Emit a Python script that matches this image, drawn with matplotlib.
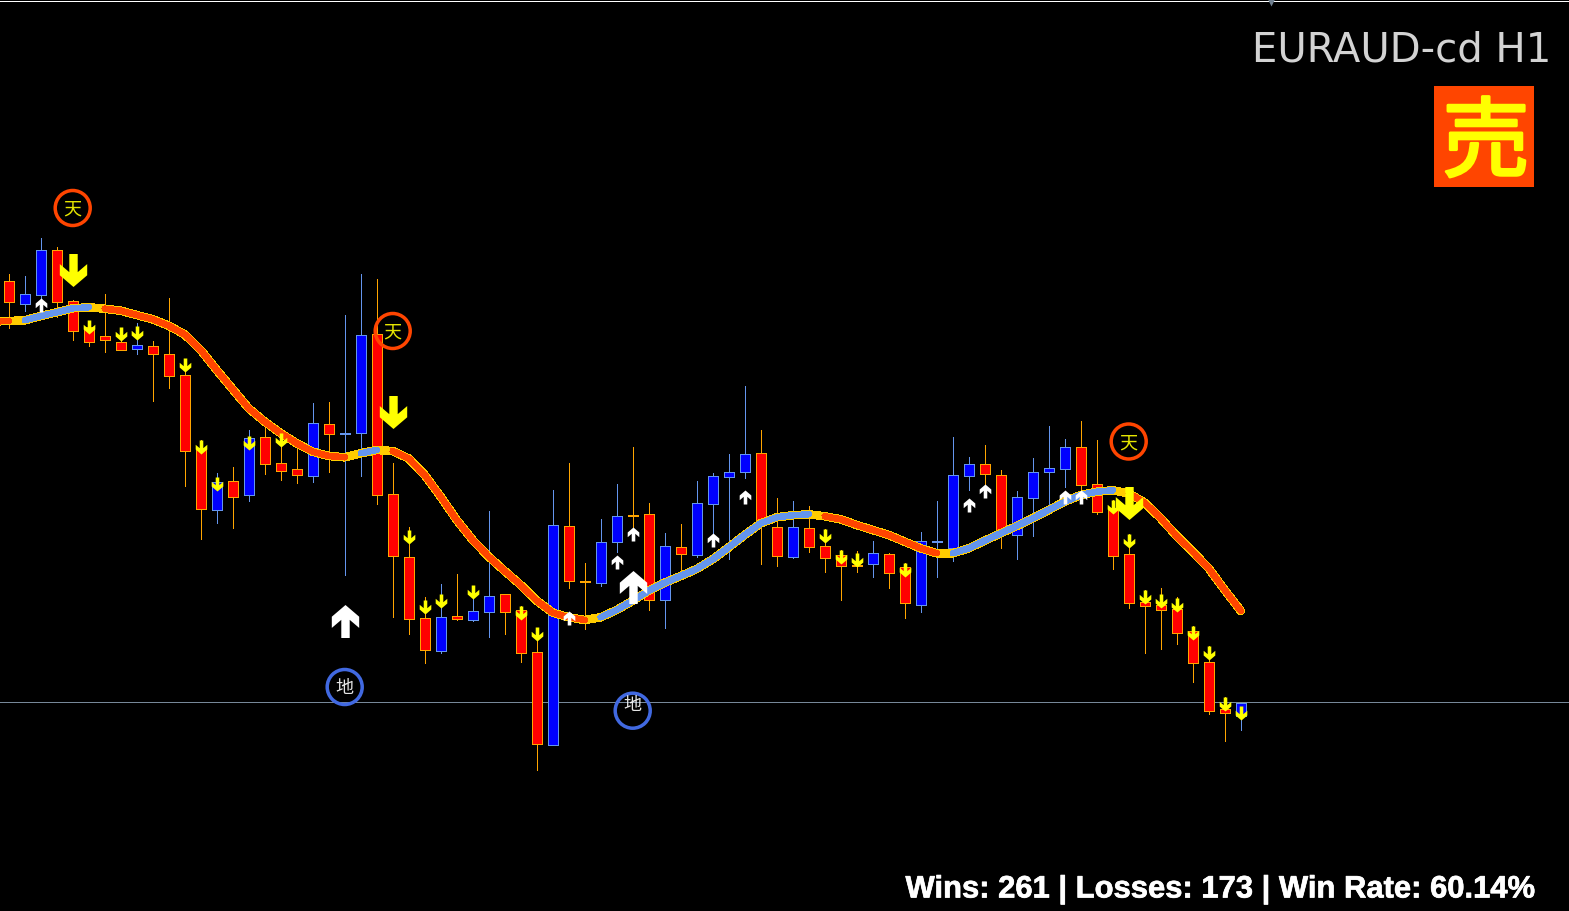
import matplotlib
matplotlib.use("Agg")
import matplotlib.pyplot as plt
import matplotlib.patheffects as pe
from matplotlib.patches import Rectangle
from matplotlib.path import Path

W, H = 1569, 911
BAR_PX = 16
FIRST_BAR_PX = 8.7

# chart data, price axis is in chart rows so smaller means higher
opens = [281.3, 303.7, 294.7, 250.3, 301.3, 327, 336.3, 342.3, 348.7, 346.3, 354.3, 375.3, 448, 509.7, 481.3, 494.7, 437.3, 463.3, 469.3, 475.7,
         424.3, 433.7, 432.7, 334.3, 494.3, 557.3, 618.3, 650.7, 616.3, 619.7, 611.7, 594.3, 610.3, 652.3, 744.7, 526.3, 581, 582.7, 541.7, 515.4,
         514.3, 599.7, 547.3, 554.7, 503.7, 476.7, 471.7, 453.3, 527.3, 556.7, 528.3, 546.3, 555, 565, 563.7, 554.3, 566.7, 604.7, 541.6, 547.7,
         475.7, 464.3, 475.3, 534.7, 497.7, 472.3, 468.7, 447.3, 484.3, 508.3, 554.3, 602.3, 605.3, 609.3, 630.7, 662.3, 709.3, 716]
closes = [301.7, 294.3, 250.3, 301.7, 330.7, 341.7, 339.7, 349.7, 345.3, 353.7, 375.7, 450.7, 508.7, 481.7, 496.7, 438.3, 463.7, 470.7, 474.7, 423.3,
          433.7, 433.3, 335.3, 494.7, 555.7, 618.7, 649.7, 617.3, 618.7, 611.3, 596.3, 611.7, 652.7, 743.7, 525.3, 580.7, 581.5, 542.3, 516.3, 516,
          599.7, 546.3, 553.7, 503.3, 476.3, 472.3, 454.3, 523, 556.3, 527.3, 546.7, 557.7, 565.7, 565.5, 553.3, 572.7, 603.3, 541.3, 541.3, 475.3,
          464.3, 474.3, 533, 497.3, 472.3, 468.3, 447.3, 484.7, 511.7, 555.7, 602.7, 605.7, 609.7, 632.7, 662.7, 710.7, 712.7, 702.7]
highs = [274, 276, 238, 247, 300, 321, 294, 332, 323, 341.3, 298, 370, 440, 473, 467, 430, 424, 433, 448, 403,
         402, 315, 274, 279, 463, 527, 597, 584, 574, 590, 511, 594.3, 605.7, 640, 490.3, 463, 563, 519, 484, 447,
         503.3, 533, 524, 481, 473, 454, 386, 430, 498, 501, 506, 529, 550, 551, 541, 552.7, 563, 532, 501, 437.3,
         457, 445.3, 470, 491, 458, 426, 439, 421, 440, 500, 534, 590, 588, 597, 626, 646, 697, 702.7]
lows = [328, 310.7, 300, 316.7, 340, 345.7, 351.7, 349.7, 353.7, 400.7, 387.7, 485.7, 538.7, 522.7, 527.7, 500.7, 473.7, 479.7, 482.7, 481.7,
        471.7, 574.7, 475.7, 503.7, 616.7, 633.7, 662.7, 652.7, 620, 620.7, 636.7, 633.7, 661.7, 769.7, 744.7, 587.7, 628.7, 585.7, 551.7, 536.7,
        609.7, 627.7, 573, 556.7, 533, 558.7, 477.7, 563.5, 565.7, 557.7, 551.7, 571.7, 600, 571.7, 576.7, 587.7, 617.7, 611.7, 576.7, 560.7,
        490, 486.7, 547.7, 558.7, 535.7, 508, 487, 490, 514, 568.7, 607.7, 652.7, 648.7, 643.7, 681.7, 713.7, 740.7, 730]

# moving average, first value is the bar just off the left edge
ma_values = [321.5, 321, 320.3, 316, 312.3, 308.3, 307.3, 308.7, 310.7, 315, 319.3, 325.7, 334.5, 350, 370, 389.3, 408.3, 421.7, 433.3, 443.3,
             451.7, 456, 457.3, 453.3, 450, 451, 458.5, 475, 496.7, 520, 540, 556.7, 571, 585, 600.7, 612.7, 617.3, 620, 617.3, 610,
             600.7, 590.7, 582.7, 576, 569, 559.3, 547.3, 535, 523.3, 517.3, 515.3, 514.3, 516.3, 519.3, 525, 530, 535, 541.7, 548.3, 553.3,
             553.3, 548.3, 540.7, 533.3, 526, 518.3, 510, 501.7, 495, 491.7, 490.3, 493.3, 502.7, 518.3, 536, 551.7, 568.3, 590, 610.7]
ma_trend = [(-1, 0, "down"), (1, 5, "up"), (6, 21, "down"), (22, 23, "up"), (24, 36, "down"),
            (37, 50, "up"), (51, 58, "down"), (59, 69, "up"), (70, 77, "down")]

small_down_bars = [5, 7, 8, 11, 12, 13, 15, 17, 25, 26, 27, 29, 32, 33, 51, 52, 53, 56, 69, 70, 71, 72, 73, 74, 75, 76, 77]
small_down_rows = [327, 334, 333, 365, 447, 484, 443, 440, 537, 607, 601, 592, 613, 634, 536, 557, 560, 570, 507, 541, 597, 601, 605, 633, 653, 704, 713]
small_up_bars = [2, 35, 38, 39, 44, 46, 60, 61, 66, 67]
small_up_rows = [304.5, 617.5, 562, 533.7, 539.7, 497, 504.7, 490.7, 497.3, 497]
big_down_bars = [4, 24, 70]
big_down_rows = [270.3, 412, 503.3]
big_up_bars = [21, 39]
big_up_rows = [620.8, 586.8]

top_bars = [4, 24, 70]
top_rows = [208, 331, 441.5]
top_text_rows = [210, 333, 443.5]
bottom_bars = [21, 39]
bottom_rows = [687, 710.7]
bottom_text_rows = [688, 705]
last_price = 702.3

title = "EURAUD-cd H1"
signal = "売"
stats = "Wins: 261 | Losses: 173 | Win Rate: 60.14%"

BLUE, BLUE_EDGE = "#0000FF", "#6495ED"
RED, RED_EDGE = "#FF0000", "#FFA500"
ORANGE = "#FF4500"
GOLD = "#FFCC00"
ROYAL = "#4169E1"
PX = 0.72  # points per pixel at dpi 100

CJK = ["Noto Sans CJK JP", "DejaVu Sans"]

arrow_verts = [(-.255, 1), (.255, 1), (.255, -.1), (.83, .39), (.83, -.29), (0, -1),
               (-.83, -.29), (-.83, .39), (-.255, -.1), (-.255, 1)]
arrow_down = Path(arrow_verts, closed=True)
arrow_up = Path([(x, -y) for x, y in arrow_verts], closed=True)

fig = plt.figure(figsize=(W / 100, H / 100), dpi=100, facecolor="black")
ax = fig.add_axes([0, 0, 1, 1])
ax.set_facecolor("black")
ax.set_xlim(-FIRST_BAR_PX / BAR_PX, (W - FIRST_BAR_PX) / BAR_PX)
ax.set_ylim(H, 0)
ax.axis("off")

ax.axhline(last_price, color="#778899", lw=PX, zorder=1, antialiased=False)
ax.axhline(0.5, color="#FFFFFF", lw=PX, zorder=1, antialiased=False)
ax.scatter([(1270.5 - FIRST_BAR_PX) / BAR_PX], [2], marker="v", s=(8 * PX) ** 2, color="#708090", linewidths=0, zorder=1, clip_on=False)

for i in range(len(opens)):
    up = closes[i] < opens[i]
    edge = BLUE_EDGE if up else RED_EDGE
    fill = BLUE if up else RED
    ax.vlines(i, highs[i], lows[i], color=edge, lw=PX, zorder=2, antialiased=False)
    ax.bar(i, abs(closes[i] - opens[i]), bottom=min(opens[i], closes[i]), width=10 / BAR_PX,
           color=fill, edgecolor=edge, linewidth=PX, zorder=3, antialiased=False)

ma_x = list(range(-1, len(ma_values) - 1))
ax.plot(ma_x, ma_values, color=GOLD, lw=7.5 * PX, solid_capstyle="round", zorder=4, antialiased=False)
for start, end, trend in ma_trend:
    ax.plot(ma_x[start + 1:end + 2], ma_values[start + 1:end + 2], color=BLUE_EDGE if trend == "up" else ORANGE,
            lw=5.5 * PX, solid_capstyle="round", zorder=5, antialiased=False)

ax.scatter(small_down_bars, small_down_rows, marker=arrow_down, s=(14 * PX) ** 2, color="#FFFF00", linewidths=0, zorder=6, antialiased=False)
ax.scatter(small_up_bars, small_up_rows, marker=arrow_up, s=(14 * PX) ** 2, color="#FFFFFF", linewidths=0, zorder=6, antialiased=False)
ax.scatter(big_down_bars, big_down_rows, marker=arrow_down, s=(33 * PX) ** 2, color="#FFFF00", linewidths=0, zorder=6, antialiased=False)
ax.scatter(big_up_bars, big_up_rows, marker=arrow_up, s=(33 * PX) ** 2, color="#FFFFFF", linewidths=0, zorder=6, antialiased=False)

ax.scatter(top_bars, top_rows, marker="o", s=(35 * PX) ** 2, facecolors="none", edgecolors=ORANGE, linewidths=3.5 * PX, zorder=7)
ax.scatter(bottom_bars, bottom_rows, marker="o", s=(35 * PX) ** 2, facecolors="none", edgecolors=ROYAL, linewidths=3.5 * PX, zorder=7)
for b, r in zip(top_bars, top_text_rows):
    ax.text(b, r, "天", color="#FFFF00", fontsize=13, family=CJK, ha="center", va="center", alpha=0.9, zorder=8)
for b, r in zip(bottom_bars, bottom_text_rows):
    ax.text(b, r, "地", color="#FFFFFF", fontsize=13, family=CJK, ha="center", va="center", alpha=0.9, zorder=8)

fig.text(1551 / W, 1 - 61 / H, title, color="#D3D3D3", fontsize=28.9, family="DejaVu Sans", ha="right", va="baseline")
fig.add_artist(Rectangle((1433.5 / W, 1 - 187 / H), 100.5 / W, 100.5 / H, transform=fig.transFigure, facecolor=ORANGE, edgecolor="none"))
fig.text(1486 / W, 1 - 145 / H, signal, color="#FFFF00", fontsize=63, family=CJK, ha="center", va="center",
         path_effects=[pe.withStroke(linewidth=2, foreground="#FFFF00")])
fig.text(1536.5 / W, 1 - 897.5 / H, stats, color="#FFFFFF", fontsize=22.3, family="Liberation Sans", fontweight="bold", ha="right", va="baseline",
         path_effects=[pe.withStroke(linewidth=0.5, foreground="#FFFFFF")])

fig.savefig("out.png", dpi=100, facecolor="black")
